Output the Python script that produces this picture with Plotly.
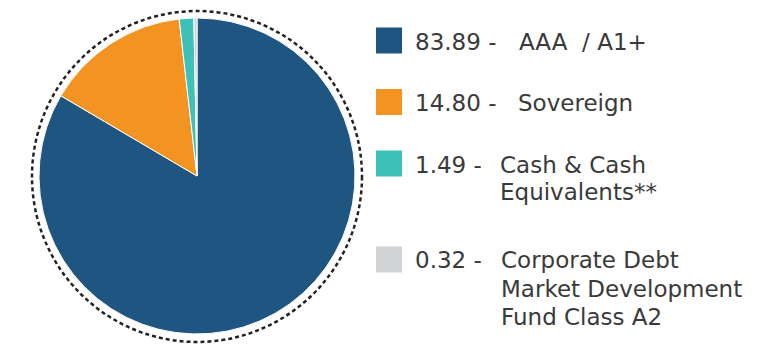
import plotly.graph_objects as go

W, H = 781, 360
OFF = 8  # page body margin

# ---- data ----
values = [83.89, 14.80, 1.49, 0.32]
value_text = ["83.89", "14.80", "1.49", "0.32"]
label_lines = [
    ["AAA  / A1+"],
    ["Sovereign"],
    ["Cash & Cash", "Equivalents**"],
    ["Corporate Debt", "Market Development", "Fund Class A2"],
]
colors = ["#1F5581", "#F39322", "#3EC1B9", "#D2D3D5"]

def px(x):
    return (x - OFF) / W

def py(y):
    return 1 - (y - OFF) / H

fig = go.Figure()
fig.add_trace(go.Pie(
    values=values,
    labels=[" ".join(l) for l in label_lines],
    sort=False,
    direction="clockwise",
    rotation=0,
    marker=dict(colors=colors, line=dict(color="white", width=1)),
    textinfo="none",
    hoverinfo="skip",
    showlegend=False,
    domain=dict(x=[px(39), px(355)], y=[py(334), py(18)]),
))

shapes = [dict(type="circle", xref="paper", yref="paper",
               x0=px(32), x1=px(362), y0=py(342), y1=py(11),
               line=dict(color="#222222", width=2.5, dash="4px,3px"))]

annotations = []
FS = 23
font = dict(family="DejaVu Sans", size=FS, color="#3A3A3A")
sq_centers = [40.5, 102, 163.5, 259.5]
label_x = [520, 519, 501, 502]
line_gap = 28
for i, v in enumerate(value_text):
    cy = sq_centers[i]
    shapes.append(dict(type="rect", xref="paper", yref="paper",
                       x0=px(376), x1=px(402), y0=py(cy + 13), y1=py(cy - 13),
                       fillcolor=colors[i], line=dict(width=0)))
    annotations.append(dict(text=v + " -", x=px(413), y=py(cy + 1), xref="paper", yref="paper",
                            xanchor="left", yanchor="middle", showarrow=False, font=font))
    for j, ln in enumerate(label_lines[i]):
        annotations.append(dict(text=ln, x=px(label_x[i] - 3), y=py(cy + 1 + j * line_gap),
                                xref="paper", yref="paper", xanchor="left", yanchor="middle",
                                showarrow=False, font=font))

fig.update_layout(
    width=W, height=H,
    margin=dict(l=0, r=0, t=0, b=0),
    paper_bgcolor="white", plot_bgcolor="white",
    shapes=shapes, annotations=annotations,
    showlegend=False,
)
fig.write_html("out.html")
